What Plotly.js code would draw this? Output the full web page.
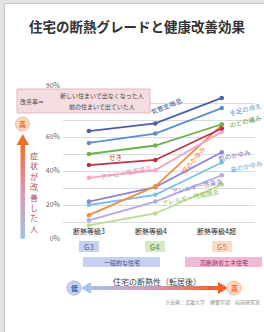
<!DOCTYPE html>
<html><head><meta charset="utf-8">
<script src="https://cdn.plot.ly/plotly-3.0.1.min.js"></script>
<style>html,body{margin:0;padding:0;background:#fff}#chart{width:264px;height:332px}</style>
</head><body><div id="chart"></div>
<script>
// ---- data ----
const categories = ["断熱等級3", "断熱等級4", "断熱等級4超"];
const grades = ["G3", "G4", "G5"];
const seriesNames = ["アレルギー性結膜炎", "アレルギー性鼻炎", "鼻のかゆみ", "肌のかゆみ", "目のかゆみ",
                     "アトピー性皮膚炎", "せき", "のどの痛み", "手足の冷え", "気管支喘息"];
const conjunctivitis = [8, 15, 32];
const rhinitis = [11, 22, 37.5];
const noseItch = [20, 26, 45];
const skinItch = [22, 30.5, 51];
const eyeItch = [14, 31, 67];
const atopy = [36, 40.5, 63];
const cough = [43.5, 46.5, 65];
const throat = [50, 55, 67.5];
const coldLimbs = [56.5, 62, 77];
const asthma = [63.5, 68, 83];
const seriesValues = [conjunctivitis, rhinitis, noseItch, skinItch, eyeItch, atopy, cough, throat, coldLimbs, asthma];
const yTickVals = [0, 10, 20, 30, 40, 50, 60, 70, 80, 90];
const yTickText = ["0%", "", "20%", "", "40%", "", "60%", "", "80%", "90%"];

// ---- styles ----
const colors = ["#bcdc90", "#b4a8e0", "#7cc0e8", "#8f86d0", "#f08a3c",
                "#f4a6c4", "#b8334a", "#6ab04c", "#5b8fd0", "#4a5fa8"];
const labelColors = ["#94bc5c", "#8a7cc8", "#5aa8d8", "#7a70c0", "#f07a2a",
                     "#f08cb4", "#c0304a", "#5aa040", "#5b8fd0", "#3d4f95"];
// label placement in pixels: [x, y, angle, anchor]
const labelPos = [[190, 197, -12, "center"], [197, 186, -12, "center"], [227, 166, -12, "left"],
                  [215, 155, -12, "left"], [193, 160, -50, "center"], [126, 172, -10, "center"],
                  [115, 157, 0, "center"], [226, 121, -14, "left"], [226, 109, -14, "left"],
                  [166, 106, -22, "center"]];

const FONT = "Noto Sans CJK JP, Noto Sans, sans-serif";
const L = 63, R = 255, T = 86, B = 239;
const PX = p => (p - L) / (R - L);
const PY = p => (B - p) / (B - T);

const traces = seriesValues.map((vals, i) => ({
  type: "scatter", mode: "lines+markers", name: seriesNames[i],
  x: categories, y: vals,
  line: {color: colors[i], width: 1.8},
  marker: {color: colors[i], size: 4.5},
  hoverinfo: "skip", cliponaxis: false
}));

const annotations = [];
const shapes = [];
function ann(px, py, text, size, color, extra) {
  annotations.push(Object.assign({xref: "paper", yref: "paper", x: PX(px), y: PY(py), text: text,
    showarrow: false, xanchor: "center", yanchor: "middle",
    font: {family: FONT, size: size, color: color}}, extra || {}));
}

seriesNames.forEach((n, i) => {
  const p = labelPos[i];
  ann(p[0], p[1], n, 6.5, labelColors[i], {textangle: p[2], xanchor: p[3]});
});

// x category labels
const xShift = [0, -4, -5];
categories.forEach((c, i) => {
  annotations.push({xref: "x", yref: "paper", x: c, y: PY(231), xshift: xShift[i], text: c,
    showarrow: false, xanchor: "center", yanchor: "middle", font: {family: FONT, size: 7, color: "#222"}});
});

// grade badges
const badgeBg = ["#c4d2ee", "#d6e8c6", "#f9dcc8"];
const badgeFg = ["#4a68a8", "#5a9040", "#d87a40"];
grades.forEach((g, i) => {
  annotations.push({xref: "x", yref: "paper", x: categories[i], y: PY(246), text: g,
    showarrow: false, xanchor: "center", yanchor: "middle", bgcolor: badgeBg[i],
    width: 20, height: 11, borderpad: 0, borderwidth: 0,
    font: {family: FONT, size: 8, color: badgeFg[i]}});
});

function rect(x0, y0, x1, y1, fill, line, layer) {
  shapes.push({type: "rect", xref: "paper", yref: "paper", x0: PX(x0), x1: PX(x1), y0: PY(y1), y1: PY(y0),
    fillcolor: fill, line: line ? {color: line, width: 1} : {width: 0}, layer: layer || "above"});
}
function circle(cx, cy, r, fill, line) {
  shapes.push({type: "circle", xref: "paper", yref: "paper", x0: PX(cx - r), x1: PX(cx + r),
    y0: PY(cy + r), y1: PY(cy - r), fillcolor: fill, line: {color: line, width: 1}, layer: "above"});
}
function tri(p, fill) {
  const s = "M" + p.map(q => PX(q[0]) + "," + PY(q[1])).join(" L") + " Z";
  shapes.push({type: "path", xref: "paper", yref: "paper", path: s, fillcolor: fill, line: {width: 0}, layer: "above"});
}
function lerp(stops, t) {
  for (let k = 0; k < stops.length - 1; k++) {
    const a = stops[k], b = stops[k + 1];
    if (t <= b[0]) {
      const u = (t - a[0]) / (b[0] - a[0]);
      const c = a[1].map((v, j) => Math.round(v + (b[1][j] - v) * u));
      return "rgb(" + c.join(",") + ")";
    }
  }
  const c = stops[stops.length - 1][1];
  return "rgb(" + c.join(",") + ")";
}

// frame
rect(0, 0, 4, 332, "#e4e4e4", null, "below");
rect(0, 0, 264, 3, "#e4e4e4", null, "below");
shapes.push({type: "line", xref: "paper", yref: "paper", x0: PX(4.5), x1: PX(4.5), y0: PY(332), y1: PY(3.5), line: {color: "#c8c8c8", width: 1}, layer: "below"});
shapes.push({type: "line", xref: "paper", yref: "paper", x0: PX(4.5), x1: PX(264), y0: PY(3.5), y1: PY(3.5), line: {color: "#c8c8c8", width: 1}, layer: "below"});

// formula box
rect(17, 89, 150, 113, "#f4dce0", "#e2b8c0");
ann(32, 101, "改善率＝", 6, "#444");
ann(102, 95.5, "新しい住まいで出なくなった人", 6, "#444");
ann(102, 106.5, "前の住まいで出ていた人", 6, "#444");

// housing type boxes
rect(83, 257, 160, 267, "#c8d0f0");
rect(185, 257, 262, 267, "#f2b8d8");
ann(121.5, 262, "一般的な住宅", 6, "#3a4a8a");
ann(223.5, 262, "高断熱省エネ住宅", 6, "#8a2a5a");

// horizontal gradient arrow
const hStops = [[0, [168, 196, 232]], [0.5, [214, 150, 180]], [1, [240, 96, 32]]];
const N = 24, hx0 = 88, hx1 = 221;
for (let k = 0; k < N; k++) {
  const a = hx0 + (hx1 - hx0) * k / N, b = hx0 + (hx1 - hx0) * (k + 1) / N + 0.6;
  rect(a, 286, b, 290, lerp(hStops, (k + 0.5) / N));
}
tri([[81, 288], [91, 282], [91, 294]], "rgb(168,196,232)");
tri([[228, 288], [218, 282], [218, 294]], "rgb(240,96,32)");
circle(74, 288, 7, "#c9d3ef", "#a3b4df");
circle(234, 288, 7, "#fcd9c4", "#f4bc98");
ann(74, 288, "<b>低</b>", 7, "#3a56a8");
ann(234, 288, "<b>高</b>", 7, "#f06a28");
ann(157, 281, "住宅の断熱性（転居後）", 8, "#444");
ann(262, 302, "※出典：近畿大学　建築学部　岩前研究室", 5, "#888", {xanchor: "right"});

// vertical gradient arrow
const vStops = [[0, [240, 112, 48]], [0.5, [222, 150, 176]], [1, [160, 192, 232]]];
const vy0 = 143, vy1 = 238;
for (let k = 0; k < N; k++) {
  const a = vy0 + (vy1 - vy0) * k / N, b = vy0 + (vy1 - vy0) * (k + 1) / N + 0.6;
  rect(20.5, a, 25, b, lerp(vStops, (k + 0.5) / N));
}
tri([[22.75, 134], [16.5, 145], [29, 145]], "rgb(240,112,48)");
circle(22.5, 124, 7, "#fcd9c4", "#f4bc98");
ann(22.5, 124, "<b>高</b>", 7, "#f06a28");
ann(34, 192, "症<br>状<br>が<br>改<br>善<br>し<br>た<br>人", 8, "#a8506a");

const layout = {
  width: 264, height: 332,
  margin: {l: L, r: 264 - R, t: T, b: 332 - B, pad: 0},
  paper_bgcolor: "#fff", plot_bgcolor: "#fff",
  showlegend: false,
  title: {text: "<b>住宅の断熱グレードと健康改善効果</b>", x: 137 / 264, xanchor: "center",
    y: 1 - 27 / 332, yanchor: "middle", yref: "container", xref: "container",
    font: {family: FONT, size: 13.5, color: "#333"}},
  xaxis: {type: "category", range: [-0.39, 2.5], showticklabels: false, showgrid: false,
    zeroline: false, showline: false, ticks: "", fixedrange: true},
  yaxis: {range: [0, 90], tickvals: yTickVals, ticktext: yTickText, showgrid: true,
    gridcolor: "#dcdcdc", gridwidth: 1, zeroline: false, showline: false, ticks: "",
    tickfont: {family: FONT, size: 7, color: "#666"}, ticklabelstandoff: 2, fixedrange: true},
  annotations: annotations, shapes: shapes
};
Plotly.newPlot("chart", traces, layout, {displayModeBar: false, staticPlot: true});
</script></body></html>
